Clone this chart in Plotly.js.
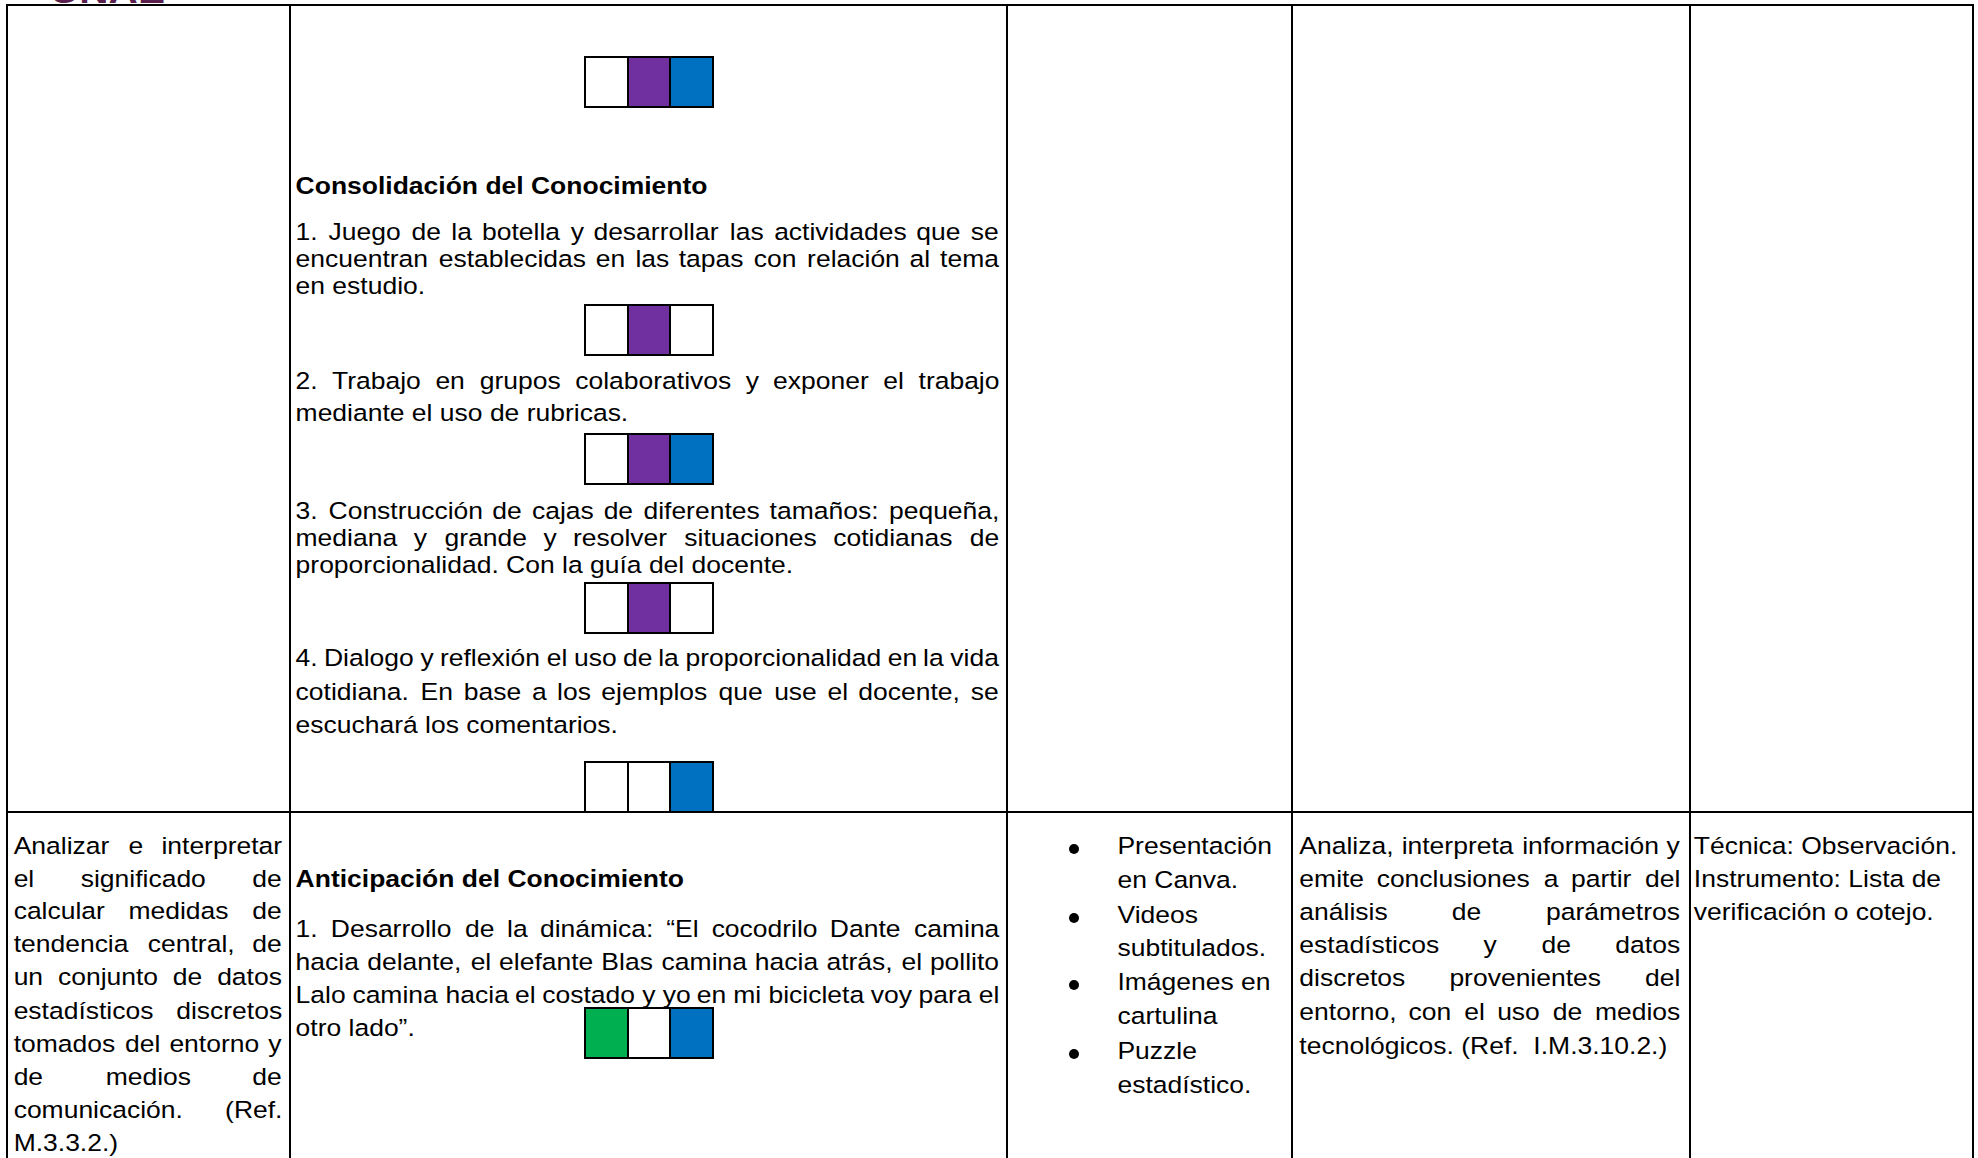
<!DOCTYPE html>
<html>
<head>
<meta charset="utf-8">
<script src="https://cdn.plot.ly/plotly-3.0.1.min.js"></script>
<style>
html,body{margin:0;padding:0;background:#fff;overflow:hidden;}
#wrap{width:1978px;height:1158px;overflow:hidden;position:relative;}
#chart{width:1740px;height:1158px;transform-origin:0 0;}
</style>
</head>
<body>
<div id="wrap"><div id="chart"></div></div>
<script>
// ---------------- DATA ----------------
const logoText = "UNAE";

const destrezaLines = [
  "Analizar e interpretar",
  "el significado de",
  "calcular medidas de",
  "tendencia central, de",
  "un conjunto de datos",
  "estadísticos discretos",
  "tomados del entorno y",
  "de medios de",
  "comunicación. (Ref.",
  "M.3.3.2.)"
];

const consolidacionTitle = "Consolidación del Conocimiento";
const actividad1 = [
  "1. Juego de la botella y desarrollar las actividades que se",
  "encuentran establecidas en las tapas con relación al tema",
  "en estudio."
];
const actividad2 = [
  "2. Trabajo en grupos colaborativos y exponer el trabajo",
  "mediante el uso de rubricas."
];
const actividad3 = [
  "3. Construcción de cajas de diferentes tamaños: pequeña,",
  "mediana y grande y resolver situaciones cotidianas de",
  "proporcionalidad. Con la guía del docente."
];
const actividad4 = [
  "4. Dialogo y reflexión el uso de la proporcionalidad en la vida",
  "cotidiana. En base a los ejemplos que use el docente, se",
  "escuchará los comentarios."
];

const anticipacionTitle = "Anticipación del Conocimiento";
const anticipacion1 = [
  "1. Desarrollo de la dinámica: “El cocodrilo Dante camina",
  "hacia delante, el elefante Blas camina hacia atrás, el pollito",
  "Lalo camina hacia el costado y yo en mi bicicleta voy para el",
  "otro lado”."
];

const recursosItems = [
  ["Presentación", "en Canva."],
  ["Videos", "subtitulados."],
  ["Imágenes en", "cartulina"],
  ["Puzzle", "estadístico."]
];

const indicadorLines = [
  "Analiza, interpreta información y",
  "emite conclusiones a partir del",
  "análisis de parámetros",
  "estadísticos y de datos",
  "discretos provenientes del",
  "entorno, con el uso de medios",
  "tecnológicos. (Ref. \u00a0I.M.3.10.2.)"
];

const evaluacionLines = [
  "Técnica: Observación.",
  "Instrumento: Lista de",
  "verificación o cotejo."
];

// colour-code markers (1 = slot filled): slots = [green, purple, blue]
const boxPatterns = [
  [0, 1, 1],
  [0, 1, 0],
  [0, 1, 1],
  [0, 1, 0],
  [0, 0, 1],
  [1, 0, 1]
];

// ---------------- LAYOUT / STYLE ----------------
const W = 1978, H = 1158, PW = 1740;
const S = W / PW;                  // horizontal stretch of the page
document.getElementById('chart').style.transform = 'scaleX(' + S + ')';
const FS = 23.3;
const FONT = '"Liberation Sans", Arial, sans-serif';
const SLOT_COLORS = ['#00B050', '#7030A0', '#0070C0'];
const LW_H = 2, LW_V = 2 / S;

const ctx = document.createElement('canvas').getContext('2d');
function measure(t, bold) {
  ctx.font = (bold ? 'bold ' : '') + FS + 'px "Liberation Sans"';
  return ctx.measureText(t).width * S;
}

const annotations = [];
const shapes = [];

function textAnn(t, x, y, bold, opts) {
  const a = {
    text: bold ? '<b>' + t + '</b>' : t,
    x: x, y: y, xref: 'x', yref: 'y',
    xanchor: 'left', yanchor: 'middle',
    showarrow: false, borderpad: 0, borderwidth: 0,
    font: {family: FONT, size: FS, color: '#000000'}
  };
  if (opts) Object.assign(a, opts);
  annotations.push(a);
}

function para(lines, L, R, ys, justify) {
  lines.forEach((ln, i) => {
    const last = i === lines.length - 1;
    if (!justify || last) { textAnn(ln, L, ys[i]); return; }
    const words = ln.split(' ').filter(Boolean);
    const ws = words.map(w => measure(w));
    const tot = ws.reduce((a, b) => a + b, 0);
    const sp = measure(' ');
    let gap = words.length > 1 ? (R - L - tot) / (words.length - 1) : 0;
    if (gap < sp * 0.25) gap = sp * 0.25;
    let x = L;
    words.forEach((w, k) => { textAnn(w, x, ys[i]); x += ws[k] + gap; });
  });
}

function hline(x0, x1, y, w) {
  shapes.push({type: 'line', xref: 'x', yref: 'y', x0: x0, x1: x1, y0: y, y1: y,
    line: {color: '#000', width: w || LW_H}, layer: 'above'});
}
function vline(x, y0, y1, w) {
  shapes.push({type: 'line', xref: 'x', yref: 'y', x0: x, x1: x, y0: y0, y1: y1,
    line: {color: '#000', width: w || LW_V}, layer: 'above'});
}

// table grid
const colX = [7, 290, 1007, 1292, 1690, 1973];
const tableTop = 5, rowLine = 812;
hline(colX[0] - 1, colX[5] + 1, tableTop);
hline(colX[0] - 1, colX[5] + 1, rowLine);
colX.forEach(x => vline(x, tableTop - 1, H + 2));

// colour boxes
const boxX = [585, 628, 670, 713];
const boxY = [57, 305, 434, 583, 762, 1008];
const boxH = 50;
boxPatterns.forEach((pat, b) => {
  const y0 = boxY[b], y1 = y0 + boxH;
  pat.forEach((v, k) => {
    shapes.push({type: 'rect', xref: 'x', yref: 'y', x0: boxX[k], x1: boxX[k + 1], y0: y0, y1: y1,
      fillcolor: v ? SLOT_COLORS[k] : '#ffffff', line: {width: 0}, layer: 'above'});
  });
  hline(boxX[0] - 1, boxX[3] + 1, y0);
  hline(boxX[0] - 1, boxX[3] + 1, y1);
  boxX.forEach(x => vline(x, y0, y1));
});

// logo (cropped at top, as in the source page)
annotations.push({text: '<b>' + logoText + '</b>', x: 50, y: 11.5, xref: 'x', yref: 'y',
  xanchor: 'left', yanchor: 'bottom', showarrow: false, borderpad: 0, borderwidth: 0,
  font: {family: FONT, size: 35.7, color: '#5a1f4d'}});

// column 1
para(destrezaLines, 14, 282, [846, 879, 911, 944, 977, 1011, 1044, 1077, 1110, 1143], true);

// column 2 top cell
const c2L = 296, c2R = 999;
textAnn(consolidacionTitle, c2L, 186, true);
para(actividad1, c2L, c2R, [232, 259, 286], true);
para(actividad2, c2L, c2R, [381, 413], true);
para(actividad3, c2L, c2R, [511, 538, 565], true);
para(actividad4, c2L, c2R, [658, 692, 725], true);

// column 2 bottom cell
textAnn(anticipacionTitle, c2L, 879, true);
para(anticipacion1, c2L, c2R, [929, 962, 995, 1028], true);

// column 3 bullets
const recYs = [846, 880, 915, 948, 982, 1016, 1051, 1085];
let li = 0;
recursosItems.forEach(item => {
  const yb = recYs[li] + 3;
  shapes.push({type: 'circle', xref: 'x', yref: 'y', x0: 1069, x1: 1079, y0: yb - 5, y1: yb + 5,
    fillcolor: '#000', line: {width: 0}, layer: 'above'});
  item.forEach(t => { textAnn(t, 1117, recYs[li]); li++; });
});

// column 4
para(indicadorLines, 1299, 1680, [846, 879, 912, 945, 978, 1012, 1046], true);

// column 5
para(evaluacionLines, 1694, 1970, [846, 879, 912], false);

const layout = {
  width: PW, height: H,
  margin: {l: 0, r: 0, t: 0, b: 0, pad: 0},
  paper_bgcolor: '#ffffff', plot_bgcolor: '#ffffff',
  showlegend: false,
  xaxis: {range: [0, W], autorange: false, visible: false, showgrid: false, zeroline: false, fixedrange: true},
  yaxis: {range: [H, 0], autorange: false, visible: false, showgrid: false, zeroline: false, fixedrange: true},
  shapes: shapes,
  annotations: annotations
};

Plotly.newPlot('chart', [], layout, {staticPlot: true, displayModeBar: false});
</script>
</body>
</html>
